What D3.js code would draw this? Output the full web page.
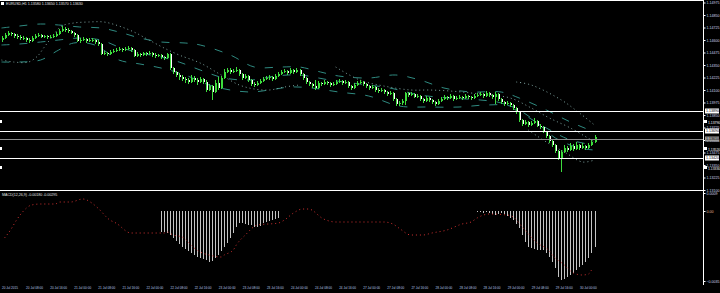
<!DOCTYPE html>
<html><head><meta charset="utf-8">
<script src="https://cdn.jsdelivr.net/npm/d3@7"></script>
<style>html,body{margin:0;padding:0;background:#000;overflow:hidden}</style>
</head><body>
<svg id="c" width="720" height="293"></svg>
<script>
// ---------- DATA ----------
const symbolTitle = "EURUSD,H1  1.13580 1.13650 1.13570 1.13630";
const macdTitle = "MACD(12,26,9) -0.00180 -0.00295";
const firstOpen = 1.1460;
const closes = [
1.1462,1.1465,1.1467,1.1466,1.1464,1.1463,1.1462,1.1462,1.1460,1.1459,
1.1462,1.1464,1.1465,1.1463,1.1464,1.1463,1.1463,1.1464,1.1466,1.1469,
1.1471,1.1470,1.1469,1.1467,1.1465,1.1459,1.1460,1.1461,1.1459,1.1460,
1.1460,1.1458,1.1456,1.1446,1.1447,1.1446,1.1448,1.1449,1.1450,1.1451,
1.1450,1.1451,1.1452,1.1450,1.1444,1.1446,1.1445,1.1447,1.1446,1.1447,
1.1445,1.1444,1.1445,1.1443,1.1442,1.1446,1.1432,1.1428,1.1425,1.1423,
1.1421,1.1420,1.1418,1.1422,1.1420,1.1418,1.1421,1.1418,1.1410,1.1414,
1.1408,1.1417,1.1412,1.1422,1.1428,1.1430,1.1428,1.1429,1.1430,1.1426,
1.1422,1.1424,1.1420,1.1416,1.1415,1.1417,1.1419,1.1421,1.1422,1.1423,
1.1421,1.1424,1.1426,1.1428,1.1429,1.1427,1.1430,1.1428,1.1430,1.1426,
1.1422,1.1418,1.1416,1.1414,1.1412,1.1417,1.1416,1.1418,1.1417,1.1415,
1.1416,1.1418,1.1419,1.1417,1.1418,1.1414,1.1412,1.1415,1.1417,1.1418,
1.1416,1.1414,1.1412,1.1413,1.1410,1.1409,1.1410,1.1408,1.1406,1.1407,
1.1401,1.1396,1.1397,1.1399,1.1407,1.1405,1.1406,1.1403,1.1404,1.1401,
1.1399,1.1402,1.1400,1.1398,1.1396,1.1399,1.1401,1.1403,1.1402,1.1404,
1.1401,1.1402,1.1403,1.1402,1.1404,1.1403,1.1402,1.1404,1.1405,1.1406,
1.1404,1.1407,1.1405,1.1403,1.1406,1.1401,1.1398,1.1396,1.1397,1.1395,
1.1392,1.1388,1.1380,1.1376,1.1378,1.1375,1.1377,1.1379,1.1374,1.1373,
1.1368,1.1364,1.1359,1.1355,1.1349,1.1342,1.1348,1.1352,1.1350,1.1354,
1.1351,1.1355,1.1352,1.1354,1.1352,1.1355,1.1358,1.1363];
const highs = [
1.1464,1.1467,1.1469,1.1468,1.1467,1.1466,1.1465,1.1464,1.1463,1.1462,
1.1464,1.1466,1.1467,1.1466,1.1465,1.1465,1.1465,1.1466,1.1468,1.1471,
1.1474,1.1473,1.1472,1.1470,1.1468,1.1466,1.1462,1.1463,1.1462,1.1462,
1.1462,1.1461,1.1460,1.1457,1.1449,1.1448,1.1450,1.1451,1.1452,1.1453,
1.1452,1.1453,1.1454,1.1453,1.1451,1.1448,1.1447,1.1448,1.1448,1.1449,
1.1448,1.1447,1.1446,1.1446,1.1444,1.1447,1.1447,1.1433,1.1429,1.1427,
1.1425,1.1423,1.1422,1.1425,1.1424,1.1422,1.1423,1.1422,1.1420,1.1416,
1.1415,1.1420,1.1423,1.1424,1.1431,1.1432,1.1432,1.1431,1.1433,1.1431,
1.1427,1.1426,1.1425,1.1421,1.1418,1.1419,1.1421,1.1423,1.1424,1.1425,
1.1424,1.1426,1.1428,1.1430,1.1431,1.1430,1.1432,1.1431,1.1432,1.1431,
1.1427,1.1423,1.1419,1.1417,1.1420,1.1419,1.1418,1.1420,1.1419,1.1418,
1.1418,1.1420,1.1421,1.1420,1.1420,1.1419,1.1415,1.1417,1.1419,1.1420,
1.1419,1.1417,1.1415,1.1415,1.1414,1.1412,1.1412,1.1411,1.1409,1.1409,
1.1408,1.1402,1.1399,1.1401,1.1408,1.1408,1.1408,1.1407,1.1406,1.1405,
1.1402,1.1404,1.1403,1.1401,1.1399,1.1401,1.1403,1.1405,1.1404,1.1406,
1.1405,1.1404,1.1405,1.1404,1.1406,1.1405,1.1404,1.1406,1.1407,1.1408,
1.1407,1.1409,1.1408,1.1406,1.1408,1.1407,1.1402,1.1399,1.1399,1.1398,
1.1396,1.1393,1.1389,1.1381,1.1380,1.1379,1.1379,1.1382,1.1380,1.1376,
1.1374,1.1369,1.1365,1.1360,1.1356,1.1350,1.1350,1.1355,1.1354,1.1357,
1.1356,1.1358,1.1356,1.1357,1.1355,1.1357,1.1360,1.1365];
const lows = [
1.1458,1.1461,1.1464,1.1464,1.1462,1.1461,1.1460,1.1460,1.1458,1.1457,
1.1458,1.1461,1.1463,1.1462,1.1462,1.1461,1.1462,1.1462,1.1463,1.1465,
1.1468,1.1468,1.1467,1.1466,1.1463,1.1458,1.1457,1.1459,1.1457,1.1458,
1.1458,1.1456,1.1454,1.1445,1.1445,1.1444,1.1445,1.1447,1.1448,1.1449,
1.1448,1.1449,1.1450,1.1448,1.1443,1.1443,1.1443,1.1444,1.1444,1.1445,
1.1443,1.1442,1.1443,1.1441,1.1440,1.1441,1.1430,1.1426,1.1423,1.1420,
1.1419,1.1417,1.1416,1.1417,1.1418,1.1415,1.1417,1.1416,1.1408,1.1409,
1.1400,1.1407,1.1410,1.1411,1.1421,1.1427,1.1426,1.1427,1.1428,1.1424,
1.1420,1.1421,1.1418,1.1414,1.1413,1.1414,1.1416,1.1418,1.1420,1.1420,
1.1419,1.1420,1.1423,1.1425,1.1427,1.1425,1.1426,1.1426,1.1427,1.1424,
1.1420,1.1416,1.1414,1.1412,1.1410,1.1411,1.1414,1.1415,1.1415,1.1413,
1.1414,1.1415,1.1417,1.1415,1.1416,1.1412,1.1410,1.1411,1.1414,1.1416,
1.1414,1.1412,1.1410,1.1411,1.1408,1.1407,1.1408,1.1406,1.1404,1.1405,
1.1399,1.1394,1.1394,1.1395,1.1395,1.1403,1.1404,1.1402,1.1402,1.1399,
1.1397,1.1398,1.1398,1.1396,1.1394,1.1395,1.1398,1.1400,1.1400,1.1401,
1.1399,1.1400,1.1401,1.1400,1.1401,1.1401,1.1400,1.1401,1.1403,1.1404,
1.1402,1.1403,1.1403,1.1401,1.1396,1.1399,1.1396,1.1394,1.1395,1.1393,
1.1390,1.1386,1.1378,1.1374,1.1375,1.1373,1.1374,1.1376,1.1373,1.1371,
1.1367,1.1362,1.1357,1.1353,1.1347,1.1340,1.1328,1.1347,1.1348,1.1349,
1.1349,1.1350,1.1350,1.1351,1.1350,1.1351,1.1354,1.1357];

const priceTicks = [1.14975,1.14850,1.14725,1.14600,1.14475,1.14350,1.14225,1.14100,
  1.13975,1.13850,1.13725,1.13600,1.13475,1.13350,1.13225,1.13100];
const whiteLevels = [1.1389, 1.1369, 1.1342];
const grayLevels = [1.1361];
const markLevels = [1.1379, 1.1352, 1.1333];

// Bands: [bar index, price]
const dashUpper = [[0,1.1472],[6,1.1474],[13,1.1476],[19,1.1475],[26,1.1473],[33,1.1472],[39,1.1468],[46,1.1462],[53,1.1458],[61,1.1457],[66,1.1455],[76,1.1445],[84,1.1433],[93,1.1433],[99,1.1433],[106,1.1428],[112,1.1424],[122,1.1422],[131,1.1425],[139,1.1420],[147,1.1412],[156,1.1408],[166,1.1408],[172,1.1402],[181,1.1390],[189,1.1378],[197,1.1368]];
const dashMid = [[0,1.1455],[6,1.1456],[13,1.1458],[19,1.1460],[26,1.1462],[33,1.1460],[39,1.1453],[46,1.1447],[53,1.1443],[59,1.1438],[66,1.1430],[74,1.1422],[83,1.1420],[91,1.1424],[99,1.1425],[109,1.1420],[119,1.1416],[129,1.1412],[139,1.1405],[149,1.1402],[159,1.1400],[166,1.1397],[172,1.1388],[181,1.1372],[189,1.1360],[197,1.1355]];
const dashLower = [[0,1.1438],[6,1.1438],[13,1.1440],[19,1.1450],[24,1.1457],[31,1.1455],[39,1.1440],[46,1.1436],[53,1.1432],[61,1.1425],[69,1.1415],[76,1.1410],[83,1.1408],[89,1.1410],[96,1.1413],[103,1.1412],[112,1.1408],[122,1.1404],[132,1.1394],[142,1.1393],[152,1.1393],[161,1.1395],[169,1.1394],[176,1.1382],[184,1.1362],[192,1.1352],[197,1.1350]];
const dotA = [[0,1.1440],[4,1.1438],[9,1.1438],[12,1.1444],[14,1.1452],[16,1.1460],[18,1.1468],[20,1.1474],[24,1.1477],[29,1.1478],[34,1.1478],[39,1.1474],[44,1.1468],[49,1.1460],[54,1.1452],[59,1.1445],[66,1.1437],[73,1.1425],[79,1.1415],[84,1.1411],[89,1.1410],[94,1.1413],[99,1.1415]];
const dotB = [[111,1.1433],[119,1.1420],[127,1.1414],[136,1.1410],[142,1.1410],[149,1.1409],[156,1.1407],[162,1.1405],[169,1.1402],[176,1.1392],[182,1.1382],[189,1.1372],[197,1.1358]];
const dotC = [[171,1.1418],[176,1.1415],[186,1.1400],[192,1.1387],[197,1.1375]];
const dotD = [[175,1.1370],[181,1.1358],[187,1.1348],[193,1.1338],[197,1.1340]];

// MACD panel
const hist1Start = 53;
const hist1 = [-0.00105,-0.00105,-0.00110,-0.00120,-0.00135,-0.00150,-0.00165,-0.00180,-0.00190,-0.00200,
 -0.00210,-0.00220,-0.00230,-0.00235,-0.00240,-0.00245,-0.00255,-0.00250,
 -0.00235,-0.00220,-0.00200,-0.00180,-0.00160,-0.00135,-0.00110,-0.00080,-0.00060,
 -0.00060,-0.00065,-0.00070,-0.00070,-0.00080,-0.00080,-0.00075,
 -0.00060,-0.00055,-0.00050,-0.00045,-0.00040,-0.00035];
const hist2Start = 158;
const hist2 = [-0.00005,-0.00005,-0.00010,-0.00005,-0.00010,-0.00015,-0.00020,-0.00015,-0.00010,-0.00015,
 -0.00025,-0.00035,-0.00045,-0.00065,-0.00085,-0.00120,-0.00155,-0.00180,-0.00185,-0.00190,
 -0.00195,-0.00195,-0.00195,-0.00210,-0.00230,-0.00255,-0.00285,-0.00330,-0.00345,-0.00340,
 -0.00330,-0.00320,-0.00310,-0.00295,-0.00280,-0.00270,-0.00255,-0.00235,-0.00210,-0.00180];
const signal = [[1,-0.00135],[3,-0.00095],[5,-0.00045],[7,-0.00005],[10,0.00030],[13,0.00035],[18,0.00035],[19,0.00045],[23,0.00045],[27,0.00060],[30,0.00040],[32,0.00015],[36,-0.00045],[38,-0.00060],[43,-0.00110],[49,-0.00110],[54,-0.00110],[55,-0.00105],[57,-0.00120],[60,-0.00130],[64,-0.00185],[66,-0.00205],[69,-0.00220],[73,-0.00230],[74,-0.00220],[77,-0.00195],[78,-0.00170],[81,-0.00120],[85,-0.00070],[92,-0.00060],[94,-0.00045],[97,-0.00010],[100,0.00010],[102,0.00010],[107,-0.00040],[111,-0.00055],[118,-0.00055],[123,-0.00055],[127,-0.00055],[130,-0.00065],[132,-0.00085],[136,-0.00120],[140,-0.00120],[143,-0.00110],[148,-0.00095],[153,-0.00065],[156,-0.00055],[158,-0.00035],[162,-0.00015],[168,-0.00020],[170,-0.00030],[173,-0.00080],[178,-0.00160],[182,-0.00200],[183,-0.00220],[187,-0.00270],[190,-0.00310],[193,-0.00320],[195,-0.00315],[196,-0.00295]];
const macdTicks = [0.0009, 0, -0.0035];

const timeBars = [0,8,16,24,32,40,48,56,64,72,80,88,96,104,112,120,128,136,144,152,160,168,176,184,192];
const timeLabels = ["20 Jul 2015","20 Jul 08:00","20 Jul 16:00","21 Jul 00:00","21 Jul 08:00","21 Jul 16:00",
 "22 Jul 00:00","22 Jul 08:00","22 Jul 16:00","23 Jul 00:00","23 Jul 08:00","23 Jul 16:00",
 "24 Jul 00:00","24 Jul 08:00","24 Jul 16:00","27 Jul 00:00","27 Jul 08:00","27 Jul 16:00",
 "28 Jul 00:00","28 Jul 08:00","28 Jul 16:00","29 Jul 00:00","29 Jul 08:00","29 Jul 16:00","30 Jul 00:00"];

// ---------- DRAW ----------
const GREEN = "#3ddc3d";
const FONT = "Liberation Sans, Arial, sans-serif";
const svg = d3.select("#c");
svg.append("rect").attr("width",720).attr("height",293).attr("fill","#000");
const defs = svg.append("defs");
defs.append("clipPath").attr("id","cm").append("rect").attr("x",0).attr("y",0).attr("width",703).attr("height",190);
defs.append("clipPath").attr("id","cs").append("rect").attr("x",0).attr("y",191).attr("width",703).attr("height",94);

const N = closes.length;
const opens = closes.map((c,i)=> i===0 ? firstOpen : closes[i-1]);
const x = d3.scaleLinear().domain([0, N-1]).range([1.5, 594.5]);
const y = d3.scaleLinear().domain([1.1310, 1.1500]).range([190, 0]);
const y2 = d3.scaleLinear().domain([-0.0037, 0.0010]).range([285, 191]);
const px = i => Math.round(x(i));

const gm = svg.append("g").attr("clip-path","url(#cm)");
const bandLine = d3.line().x(d=>x(d[0])).y(d=>y(d[1])).curve(d3.curveCatmullRom);
[dashUpper, dashMid, dashLower].forEach(b=>{
  gm.append("path").attr("d", bandLine(b)).attr("fill","none")
    .attr("stroke","#2f8a80").attr("stroke-width",1).attr("stroke-dasharray","8,10");
});
[dotA, dotB, dotC, dotD].forEach(b=>{
  gm.append("path").attr("d", bandLine(b)).attr("fill","none")
    .attr("stroke","#7fa3a0").attr("stroke-width",1).attr("stroke-dasharray","1,3");
});

const idx = d3.range(N);
// body: 2px wide, green; bear candles show a white column beside the wick
gm.selectAll("rect.body").data(idx).join("rect").attr("class","body")
  .attr("x", i=>px(i)).attr("width", 2)
  .attr("y", i=>y(Math.max(opens[i], closes[i])))
  .attr("height", i=>Math.max(1, Math.abs(y(opens[i]) - y(closes[i]))))
  .attr("fill", GREEN);
gm.selectAll("line.wick").data(idx).join("line").attr("class","wick")
  .attr("x1", i=>px(i)+0.5).attr("x2", i=>px(i)+0.5)
  .attr("y1", i=>y(highs[i])).attr("y2", i=>y(lows[i]))
  .attr("stroke", GREEN).attr("stroke-width",1);
gm.selectAll("rect.bear").data(idx.filter(i=>closes[i] < opens[i])).join("rect").attr("class","bear")
  .attr("x", i=>px(i)+1).attr("width", 1)
  .attr("y", i=>y(opens[i]))
  .attr("height", i=>Math.max(1, y(closes[i]) - y(opens[i])))
  .attr("fill", "#ffffff");

// horizontal level lines
const levG = svg.append("g");
whiteLevels.forEach(v=>{
  levG.append("line").attr("x1",0).attr("x2",703).attr("y1",Math.round(y(v))+0.5).attr("y2",Math.round(y(v))+0.5)
    .attr("stroke","#fff").attr("stroke-width",1);
});
grayLevels.forEach(v=>{
  levG.append("line").attr("x1",0).attr("x2",703).attr("y1",Math.round(y(v))+0.5).attr("y2",Math.round(y(v))+0.5)
    .attr("stroke","#8c8c8c").attr("stroke-width",1);
});
markLevels.forEach(v=>{
  levG.append("rect").attr("x",0).attr("y",Math.round(y(v))-1).attr("width",2).attr("height",3).attr("fill","#fff");
  levG.append("rect").attr("x",703).attr("y",Math.round(y(v))-1).attr("width",4).attr("height",3).attr("fill","#fff");
});

// frame
svg.append("line").attr("x1",0).attr("x2",703).attr("y1",0.5).attr("y2",0.5).attr("stroke","#fff");
svg.append("line").attr("x1",0).attr("x2",703).attr("y1",190.5).attr("y2",190.5).attr("stroke","#fff");
svg.append("line").attr("x1",703.5).attr("x2",703.5).attr("y1",0).attr("y2",285).attr("stroke","#fff");

// right price axis
const axR = d3.axisRight(y).tickValues(priceTicks).tickFormat(d3.format(".5f")).tickSize(2).tickPadding(1);
svg.append("g").attr("transform","translate(703.5,0)").call(axR)
  .attr("font-size",3.6).attr("font-family",FONT)
  .call(g=>g.select(".domain").remove())
  .call(g=>g.selectAll("line").attr("stroke","#fff"))
  .call(g=>g.selectAll("text").attr("fill","#cfd8ea"));

// level price labels
const fmt5 = d3.format(".5f");
whiteLevels.concat(grayLevels).forEach(v=>{
  const yy = y(v);
  svg.append("rect").attr("x",705).attr("y",yy-2.5).attr("width",14).attr("height",5)
    .attr("fill", grayLevels.includes(v) ? "#9a9a9a" : "#ffffff");
  svg.append("text").attr("x",706).attr("y",yy).attr("dy","0.35em").attr("font-size",3.6)
    .attr("font-family",FONT).attr("fill","#000").text(fmt5(v));
});
markLevels.forEach(v=>{
  svg.append("text").attr("x",708).attr("y",y(v) + 2.2).attr("dy","0.35em").attr("font-size",3.4)
    .attr("font-family",FONT).attr("fill","#ffffff").text(fmt5(v));
});

// title
svg.append("rect").attr("x",1).attr("y",2).attr("width",3).attr("height",3).attr("fill","#fff");
svg.append("text").attr("x",6).attr("y",5.2).attr("font-size",3.6).attr("font-family",FONT)
  .attr("fill","#e8e8e8").text(symbolTitle);

// MACD panel
const gs = svg.append("g").attr("clip-path","url(#cs)");
const histData = [];
hist1.forEach((v,k)=>histData.push([hist1Start+k, v]));
hist2.forEach((v,k)=>histData.push([hist2Start+k, v]));
gs.selectAll("line.h").data(histData).join("line").attr("class","h")
  .attr("x1", d=>px(d[0])+0.5).attr("x2", d=>px(d[0])+0.5)
  .attr("y1", y2(0)).attr("y2", d=>y2(d[1]))
  .attr("stroke","#c4c4c4").attr("stroke-width",1);
const sigLine = d3.line().x(d=>x(d[0])).y(d=>y2(d[1])).curve(d3.curveMonotoneX);
gs.append("path").attr("d", sigLine(signal)).attr("fill","none")
  .attr("stroke","#d03030").attr("stroke-width",1).attr("stroke-dasharray","1,3");

svg.append("text").attr("x",2).attr("y",195.5).attr("font-size",3.6).attr("font-family",FONT)
  .attr("fill","#e0e0e0").text(macdTitle);

const axR2 = d3.axisRight(y2).tickValues(macdTicks)
  .tickFormat(d => d === 0 ? "0.00" : d3.format(".4f")(d)).tickSize(2).tickPadding(1);
svg.append("g").attr("transform","translate(703.5,0)").call(axR2)
  .attr("font-size",3.6).attr("font-family",FONT)
  .call(g=>g.select(".domain").remove())
  .call(g=>g.selectAll("line").attr("stroke","#fff"))
  .call(g=>g.selectAll("text").attr("fill", d => d === 0 ? "#e8b890" : "#cfd8ea"));

// time axis
const axB = d3.axisBottom(x).tickValues(timeBars).tickFormat((d,i)=>timeLabels[i]).tickSize(0).tickPadding(0);
svg.append("g").attr("transform","translate(0,286)").call(axB)
  .attr("font-size",3.1).attr("font-family",FONT)
  .call(g=>g.select(".domain").remove())
  .call(g=>g.selectAll("text").attr("fill","#b9c8e6").attr("text-anchor","start").attr("dy","0.9em"));
</script>
</body></html>
